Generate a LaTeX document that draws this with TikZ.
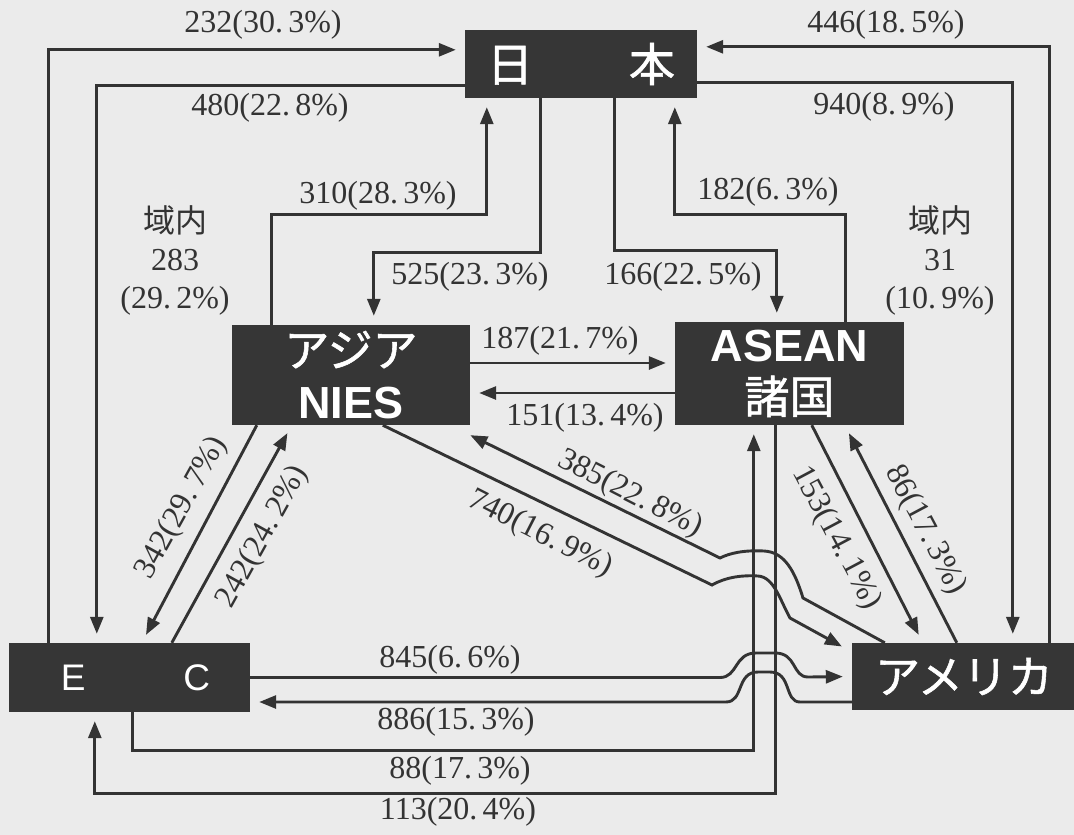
\documentclass[tikz,border=0pt]{standalone}
\usepackage{fontspec}
\setmainfont{Liberation Serif}
\newfontfamily\jpfont{Noto Sans CJK JP}
\newfontfamily\jpbold[FakeBold=1.2]{Noto Sans CJK JP}
\newfontfamily\boxsans{Liberation Sans}
\usepackage{tikz}
\usetikzlibrary{arrows.meta,calc}
\definecolor{paper}{HTML}{EBEBEB}
\definecolor{ink}{HTML}{333333}
\definecolor{boxfill}{HTML}{363636}

\tikzset{
  region/.style={fill=boxfill, text=white, inner sep=0pt, align=center},
  flow/.style={draw=ink, line width=2.9pt, -{Triangle[length=17pt,width=13pt]}, shorten >=9pt},
  lbl/.style={text=ink, inner sep=0pt, font=\fontsize{32}{38}\selectfont},
}

\begin{document}
\begin{tikzpicture}[x=1pt, y=-1pt]
  \useasboundingbox (0,0) rectangle (1074,835);
  \fill[paper] (0,0) rectangle (1074,835);

  \node[region, minimum width=232pt, minimum height=68pt, font=\jpbold\fontsize{46}{46}\selectfont] (jp) at (581,64) {日\hspace{96pt}本};
  \node[region, minimum width=238pt, minimum height=100pt, font=\fontsize{45}{52}\selectfont] (nies) at (351,375) {{\jpbold アジア}\\{\boxsans\bfseries NIES}};
  \node[region, minimum width=229pt, minimum height=103pt, font=\fontsize{45}{52}\selectfont] (asean) at (789.5,373.5) {{\boxsans\bfseries ASEAN}\\{\jpbold 諸国}};
  \node[region, minimum width=241pt, minimum height=69pt, font=\boxsans\fontsize{37}{37}\selectfont] (ec) at (129.5,677.5) {\hspace{12pt}E\hspace{98pt}C};
  \node[region, minimum width=224pt, minimum height=67pt, font=\jpbold\fontsize{45}{45}\selectfont] (us) at (964,676.5) {アメリカ};

  \draw[flow] ([xshift=40pt]ec.north west) |- ([yshift=-20pt]jp.north west);
  \draw[flow] ([yshift=13pt]jp.south west) -| ([xshift=88pt]ec.north west);
  \draw[flow] ([xshift=40pt]nies.north west) -- ++(0,-110) -| ([xshift=22pt]jp.south west);
  \draw[flow] ([xshift=76pt]jp.south west) -- ++(0,154) -| ([xshift=142pt]nies.north west);
  \draw[flow] ([xshift=150pt]jp.south west) -- ++(0,152) -| ([xshift=102pt]asean.north west);
  \draw[flow] ([xshift=171pt]asean.north west) -- ++(0,-107) -| ([xshift=210pt]jp.south west);
  \draw[flow] ([xshift=198pt]us.north west) |- ([yshift=-17pt]jp.north east);
  \draw[flow] ([yshift=16pt]jp.south east) -| ([xshift=161pt]us.north west);

  \draw[flow] ([yshift=12pt]nies.east) -- ([yshift=10.5pt]asean.west);
  \draw[flow] ([yshift=-19.5pt]asean.west) -- ([yshift=-18pt]nies.east);
  \draw[flow] ([xshift=25pt]nies.south west) -- ([xshift=133pt]ec.north west);
  \draw[flow] ([xshift=163pt]ec.north west) -- ([xshift=60pt]nies.south west);
  \draw[flow] ([xshift=137pt]asean.south west) -- ([xshift=71pt]us.north west);
  \draw[flow] ([xshift=105pt]us.north west) -- ([xshift=170pt]asean.south west);

  \draw[flow] ([xshift=124pt]ec.south west) -- ++(0,38) -| ([xshift=79pt]asean.south west);
  \draw[flow] ([xshift=101pt]asean.south west) -- ++(0,368) -| ([xshift=86pt]ec.south west);

  % hops over the two ASEAN verticals
  \draw[flow] (ec.east) -- (720,677.5) .. controls (738,677.5) and (734,653) .. (756,653) -- (775,653) .. controls (797,653) and (792,677) .. (808,677) -- (us.west);
  \draw[flow] ([yshift=-25.5pt]us.west) -- (800,702) .. controls (784,702) and (792,672) .. (770,672) -- (758,672) .. controls (736,672) and (744,702) .. (726,702) -- ([yshift=-24.5pt]ec.east);
  \draw[flow] ([xshift=151pt]nies.south west) -- (712,585) .. controls (726,577) and (742,575) .. (758,576) .. controls (774,577) and (780,600) .. (790,618) -- ([xshift=-2pt,yshift=-8pt]us.north west);
  \draw[flow] ([xshift=33pt]us.north west) -- (803,598) .. controls (795,572) and (785,552) .. (764,551) .. controls (744,550) and (730,553) .. (720,558) -- ([xshift=-8pt,yshift=-6pt]nies.south east);

  \node[lbl] (l232) at (263,25)  {232(30.\,3\%)};
  \node[lbl] (l480) at (270,108) {480(22.\,8\%)};
  \node[lbl] (l310) at (378,196) {310(28.\,3\%)};
  \node[lbl] (l525) at (470,277) {525(23.\,3\%)};
  \node[lbl] (l166) at (683,277) {166(22.\,5\%)};
  \node[lbl] (l182) at (768,192) {182(6.\,3\%)};
  \node[lbl] (l446) at (886,25)  {446(18.\,5\%)};
  \node[lbl] (l940) at (884,107) {940(8.\,9\%)};
  \node[lbl, align=center] (inL) at (175,260) {{\jpfont 域内}\\283\\(29.\,2\%)};
  \node[lbl, align=center] (inR) at (940,260) {{\jpfont 域内}\\31\\(10.\,9\%)};
  \node[lbl] (l187) at (560,341) {187(21.\,7\%)};
  \node[lbl] (l151) at (585,418) {151(13.\,4\%)};
  \node[lbl, rotate=61]  (l342) at (182,508) {342(29.\,7\%)};
  \node[lbl, rotate=61]  (l242) at (263,537) {242(24.\,2\%)};
  \node[lbl, rotate=-27] (l385) at (630,494) {385(22.\,8\%)};
  \node[lbl, rotate=-27] (l740) at (540,534) {740(16.\,9\%)};
  \node[lbl, rotate=-62] (l153) at (836,538) {153(14.\,1\%)};
  \node[lbl, rotate=-62] (l86)  at (925,530) {86(17.\,3\%)};
  \node[lbl] (l845) at (450,660) {845(6.\,6\%)};
  \node[lbl] (l886) at (456,722) {886(15.\,3\%)};
  \node[lbl] (l88)  at (460,771) {88(17.\,3\%)};
  \node[lbl] (l113) at (458,812) {113(20.\,4\%)};
\end{tikzpicture}
\end{document}
